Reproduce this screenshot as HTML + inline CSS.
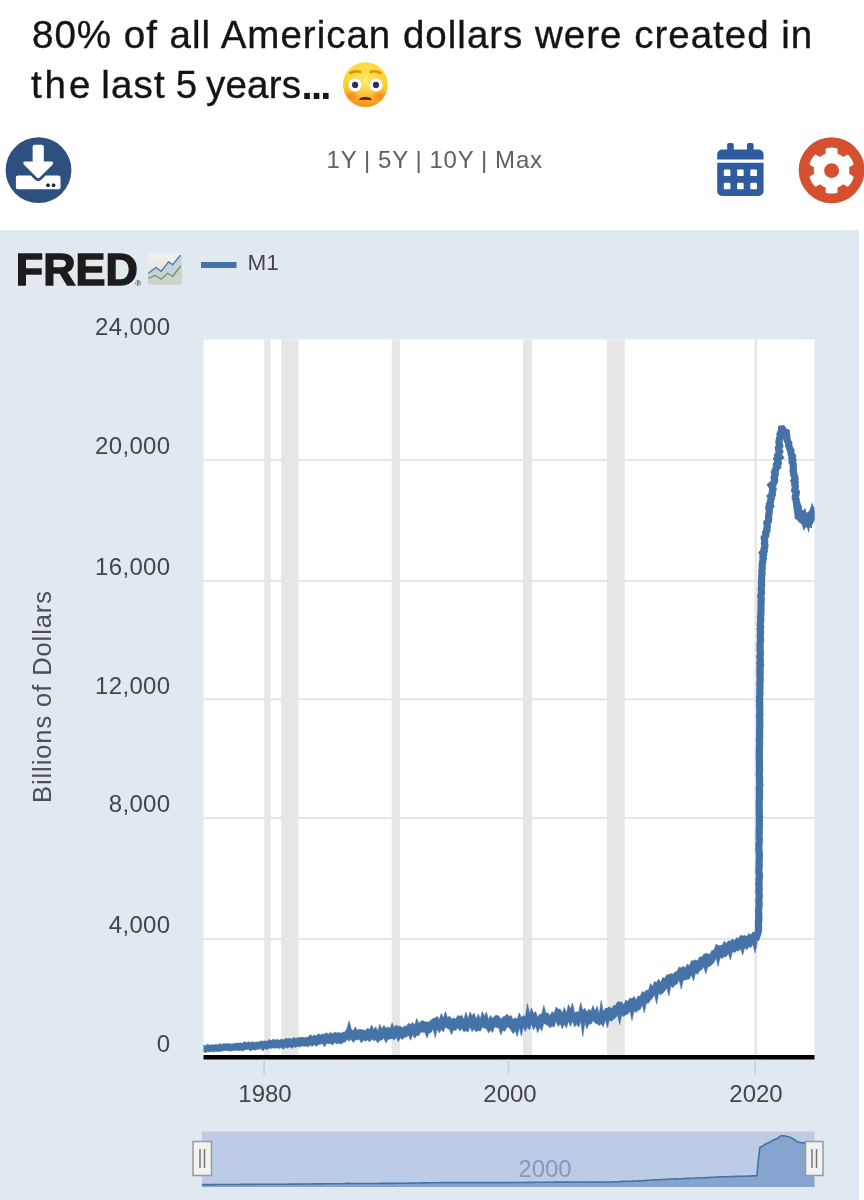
<!DOCTYPE html>
<html lang="en">
<head>
<meta charset="utf-8">
<title>FRED M1</title>
<style>
html,body{margin:0;padding:0;background:#fff;}
body{width:864px;height:1200px;position:relative;overflow:hidden;font-family:"Liberation Sans",sans-serif;}
.abs{position:absolute;}
#title{-webkit-text-stroke:0.350px #141414;left:0;top:0;width:864px;height:120px;font-size:38.500px;line-height:50px;color:#141414;white-space:nowrap;letter-spacing:1px;word-spacing:0px;}
#title span{position:absolute;display:block;line-height:50px;}
#title .l1{left:32px;top:10px;}
#title .l2{top:60px;}
#emo{opacity:0;font-size:10px;}
#ranges{left:326.500px;top:145.500px;font-size:24px;color:#616161;line-height:28px;letter-spacing:0.870px;word-spacing:-0.700px;white-space:nowrap;}
#chartbg{left:0;top:230px;width:859px;height:970px;background:#e1e9f0;}
svg{position:absolute;left:0;top:0;}
svg text{font-family:"Liberation Sans",sans-serif;}
</style>
</head>
<body>
<div id="title" class="abs"><span class="l1">80% of all American dollars were created in</span> <span class="l2" style="left:31px;letter-spacing:2.900px">the</span> <span class="l2" style="left:101.200px;letter-spacing:1.200px">last</span> <span class="l2" style="left:175.7px">5</span> <span class="l2" style="left:206px;letter-spacing:0.200px">years</span><span class="l2" id="dots" style="left:301.500px;font-weight:700;font-size:40px;letter-spacing:-1.700px;-webkit-text-stroke:0">...</span> <span class="l2" id="emo" style="left:350px">😳</span></div>
<div id="ranges" class="abs">1Y | 5Y | 10Y | Max</div>
<div id="chartbg" class="abs"></div>
<svg width="864" height="1200" viewBox="0 0 864 1200">
<defs>
<clipPath id="faceclip"><circle cx="365.4" cy="84.7" r="22.4"/></clipPath>
<clipPath id="plotclip"><rect x="203.500" y="330" width="611" height="740"/></clipPath>
<linearGradient id="face" x1="0" y1="0" x2="0" y2="1"><stop offset="0" stop-color="#ffd83a"/><stop offset="0.500" stop-color="#ffd02e"/><stop offset="1" stop-color="#f5921a"/></linearGradient>
<radialGradient id="face2" cx="50%" cy="42%" r="45%"><stop offset="0" stop-color="#fff07a" stop-opacity="0.900"/><stop offset="1" stop-color="#ffe050" stop-opacity="0"/></radialGradient>
<radialGradient id="blush" cx="50%" cy="50%" r="50%"><stop offset="0" stop-color="#f6702a" stop-opacity="0.750"/><stop offset="1" stop-color="#f5762a" stop-opacity="0"/></radialGradient>
<linearGradient id="icobg" x1="0" y1="0" x2="0" y2="1"><stop offset="0" stop-color="#f1f2f0"/><stop offset="1" stop-color="#dcdfe0"/></linearGradient>
</defs>

<!-- emoji -->
<g id="emoji">
<circle cx="365.4" cy="84.7" r="22.4" fill="url(#face)"/>
<circle cx="365.4" cy="84.7" r="22.4" fill="url(#face2)"/>
<g clip-path="url(#faceclip)"><ellipse cx="351" cy="96" rx="8.500" ry="6.500" fill="url(#blush)"/>
<ellipse cx="379.800" cy="96" rx="8.500" ry="6.500" fill="url(#blush)"/></g>
<circle cx="355.1" cy="84.9" r="7.200" fill="#d9d3b0" opacity="0.700"/>
<circle cx="376" cy="84.9" r="7.200" fill="#d9d3b0" opacity="0.700"/>
<circle cx="355.1" cy="84.9" r="6.500" fill="#fdfdff"/>
<circle cx="376" cy="84.9" r="6.500" fill="#fdfdff"/>
<circle cx="355.1" cy="84.900" r="3.100" fill="#2a2f55"/>
<circle cx="376" cy="84.900" r="3.100" fill="#2a2f55"/>
<path d="M359.100 99.800q0.400-2.900 6.300-2.900t6.300 2.900q-0.300 0.300-0.900 0.200q-5.400-0.500-10.800 0q-0.600 0.100-0.900-0.200z" fill="#5a1a0a"/>
<path d="M350.300 73.100q4.500-3 9.700-1.300" stroke="#dd940c" stroke-width="2.600" fill="none" stroke-linecap="round"/>
<path d="M380.500 73.100q-4.500-3-9.700-1.300" stroke="#dd940c" stroke-width="2.600" fill="none" stroke-linecap="round"/>
</g>

<!-- download icon -->
<g id="dl">
<circle cx="38.5" cy="170.2" r="32.9" fill="#2e5080"/>
<path transform="translate(15.9 144.7) scale(0.0872)" fill="#fff" fill-rule="evenodd" d="M216 0h80c13.3 0 24 10.700 24 24v168h87.700c17.800 0 26.700 21.500 14.100 34.100L269.700 378.300c-7.500 7.500-19.800 7.500-27.300 0L90.100 226.100c-12.600-12.600-3.700-34.100 14.100-34.100H192V24c0-13.300 10.700-24 24-24zm296 376v112c0 13.300-10.700 24-24 24H24c-13.300 0-24-10.700-24-24V376c0-13.300 10.700-24 24-24h146.700l49 49c20.100 20.100 52.500 20.100 72.600 0l49-49H488c13.300 0 24 10.700 24 24zm-124 88c0-11-9-20-20-20s-20 9-20 20 9 20 20 20 20-9 20-20zm64 0c0-11-9-20-20-20s-20 9-20 20 9 20 20 20 20-9 20-20z"/>
<circle cx="48" cy="185.200" r="1.700" fill="#1d2940"/><circle cx="53.600" cy="185.200" r="1.700" fill="#1d2940"/>
</g>

<!-- calendar icon -->
<g id="cal">
<path transform="translate(717.2 143) scale(0.1035)" fill="#2e5c9e" fill-rule="evenodd" d="M0 464c0 26.500 21.500 48 48 48h352c26.500 0 48-21.500 48-48V192H0v272zm320-196c0-6.600 5.400-12 12-12h40c6.600 0 12 5.400 12 12v40c0 6.600-5.400 12-12 12h-40c-6.600 0-12-5.400-12-12v-40zm0 128c0-6.600 5.400-12 12-12h40c6.600 0 12 5.400 12 12v40c0 6.600-5.400 12-12 12h-40c-6.600 0-12-5.400-12-12v-40zM192 268c0-6.600 5.400-12 12-12h40c6.600 0 12 5.400 12 12v40c0 6.600-5.400 12-12 12h-40c-6.600 0-12-5.400-12-12v-40zm0 128c0-6.600 5.400-12 12-12h40c6.600 0 12 5.400 12 12v40c0 6.600-5.400 12-12 12h-40c-6.600 0-12-5.400-12-12v-40zM64 268c0-6.600 5.400-12 12-12h40c6.600 0 12 5.400 12 12v40c0 6.600-5.400 12-12 12H76c-6.600 0-12-5.400-12-12v-40zm0 128c0-6.600 5.400-12 12-12h40c6.600 0 12 5.400 12 12v40c0 6.600-5.400 12-12 12H76c-6.600 0-12-5.400-12-12v-40zM400 64h-48V16c0-8.800-7.200-16-16-16h-32c-8.800 0-16 7.200-16 16v48H160V16c0-8.800-7.200-16-16-16h-32c-8.800 0-16 7.200-16 16v48H48C21.500 64 0 85.500 0 112v48h448v-48c0-26.500-21.500-48-48-48z"/>
</g>

<!-- gear icon -->
<g id="gear">
<circle cx="831.6" cy="170.2" r="32.95" fill="#d5502f"/>
<path transform="translate(807.87 146.87) scale(0.0927)" fill="#fff" fill-rule="evenodd" d="M487.4 315.7l-42.600-24.600c4.300-23.200 4.300-47 0-70.200l42.600-24.600c4.900-2.800 7.100-8.600 5.500-14-11.100-35.600-30-67.800-54.700-94.600-3.800-4.100-10-5.100-14.800-2.300L380.800 110c-17.900-15.400-38.500-27.300-60.800-35.100V25.800c0-5.600-3.900-10.500-9.400-11.700-36.700-8.200-74.300-7.800-109.200 0-5.500 1.200-9.400 6.100-9.400 11.700V75c-22.200 7.900-42.800 19.800-60.800 35.100L88.700 85.500c-4.900-2.800-11-1.900-14.800 2.300-24.700 26.700-43.600 58.900-54.700 94.600-1.700 5.400.6 11.200 5.500 14L67.300 221c-4.300 23.200-4.300 47 0 70.200l-42.600 24.600c-4.900 2.800-7.100 8.600-5.500 14 11.100 35.600 30 67.800 54.700 94.600 3.800 4.100 10 5.100 14.800 2.300l42.600-24.600c17.900 15.400 38.500 27.300 60.800 35.100v49.200c0 5.600 3.900 10.500 9.400 11.700 36.700 8.200 74.300 7.800 109.200 0 5.500-1.200 9.400-6.100 9.400-11.700v-49.200c22.200-7.900 42.800-19.800 60.800-35.100l42.600 24.600c4.900 2.800 11 1.900 14.800-2.300 24.700-26.700 43.600-58.900 54.700-94.600 1.500-5.500-.7-11.300-5.600-14.100zM256 336c-44.100 0-80-35.900-80-80s35.900-80 80-80 80 35.900 80 80-35.900 80-80 80z"/>
</g>

<!-- FRED logo -->
<text x="15.800" y="284.800" font-size="43.500" font-weight="700" fill="#1d1b1c" stroke="#1d1b1c" stroke-width="1.500" textLength="122" lengthAdjust="spacingAndGlyphs">FRED</text>
<text x="135.300" y="285.800" font-size="8" fill="#1d1b1c">®</text>
<g id="fredico">
<rect x="147.700" y="253.500" width="34" height="31.300" rx="3" fill="url(#icobg)"/>
<path d="M148.300 273.300L156 267.500 161.250 271.250 168.500 261.900 172.700 264.600 180.600 255.500 181.700 256v23h-33.400z" fill="#bccad4" opacity="0.750"/>
<path d="M148.300 278.500L155 275.400 161.250 279.200 167.500 273.300 172.700 276.500 181.700 266v15.800a3 3 0 0 1 -3 3h-28a3 3 0 0 1 -3 -3z" fill="#cfd3cf"/>
<path d="M148.300 273.300L156 267.500 161.250 271.250 168.500 261.900 172.700 264.600 180.600 255" fill="none" stroke="#52799c" stroke-width="1.300"/>
<path d="M148.300 278.500L155 275.400 161.250 279.200 167.500 273.300 172.700 276.500 180.600 266" fill="none" stroke="#6f9a4a" stroke-width="1.300"/>
</g>

<!-- legend -->
<rect x="201" y="262" width="35.500" height="6" fill="#4572a7"/>
<text x="247.500" y="269.800" font-size="22.500" fill="#454545">M1</text>

<!-- plot -->
<rect x="203.500" y="339.500" width="611" height="718" fill="#fff"/>
<g fill="#e6e6e6">
<rect x="264.200" y="339.500" width="6.300" height="718"/>
<rect x="281.300" y="339.500" width="17.200" height="718"/>
<rect x="391.700" y="339.500" width="8.200" height="718"/>
<rect x="523" y="339.500" width="9" height="718"/>
<rect x="607" y="339.500" width="17.800" height="718"/>
<rect x="754.500" y="339.500" width="2.500" height="718"/>
</g>
<g fill="#e6e6e6">
<rect x="203.500" y="459" width="611" height="2"/>
<rect x="203.500" y="580" width="611" height="2"/>
<rect x="203.500" y="698.300" width="611" height="2"/>
<rect x="203.500" y="817" width="611" height="2"/>
<rect x="203.500" y="938" width="611" height="2"/>
</g>
<g clip-path="url(#plotclip)">
<path d="M203.5 1045.1L205.6 1045.7L207.6 1044.2L209.7 1045.3L211.7 1044.7L213.8 1044.9L215.8 1044.5L217.9 1044.8L219.9 1043.7L222.0 1044.4L224.0 1043.4L226.1 1044.0L228.1 1043.4L230.2 1044.0L232.2 1043.9L234.3 1043.6L236.3 1043.1L238.4 1043.3L240.4 1042.8L242.5 1043.4L244.5 1041.4L246.6 1042.7L248.6 1041.7L250.7 1042.5L252.7 1041.7L254.8 1042.5L256.8 1041.9L258.9 1042.0L260.9 1040.9L263.0 1041.2L265.0 1040.9L267.1 1041.3L269.1 1039.4L271.2 1040.6L273.2 1039.3L275.3 1040.0L277.3 1039.4L279.4 1040.3L281.4 1039.0L283.5 1039.9L285.5 1038.3L287.6 1038.7L289.6 1038.4L291.7 1039.1L293.7 1037.6L295.8 1038.4L297.8 1037.8L299.9 1037.6L301.9 1037.1L304.0 1037.7L306.0 1037.4L308.1 1037.2L310.1 1034.7L312.2 1036.2L314.2 1035.1L316.3 1036.1L318.3 1033.7L320.4 1035.0L322.4 1034.0L324.5 1034.2L326.5 1032.7L328.6 1034.2L330.6 1032.3L332.7 1034.0L334.7 1032.0L336.8 1033.0L338.8 1032.6L340.9 1033.2L342.9 1032.2L345.0 1031.9L347.0 1028.3L349.1 1020.9L351.1 1028.6L353.2 1031.0L355.2 1026.9L357.3 1030.3L359.3 1029.3L361.4 1029.6L363.4 1029.9L365.5 1030.6L367.5 1028.2L369.6 1029.6L371.6 1025.1L373.7 1029.4L375.7 1026.8L377.8 1031.0L379.8 1024.3L381.9 1029.0L383.9 1025.3L386.0 1028.2L388.0 1026.9L390.1 1028.6L392.1 1022.8L394.2 1027.6L396.2 1025.0L398.3 1026.5L400.3 1025.9L402.4 1028.1L404.4 1026.0L406.5 1026.2L408.5 1023.2L410.6 1024.5L412.6 1022.5L414.7 1024.9L416.7 1018.6L418.8 1023.4L420.8 1021.5L422.9 1020.6L424.9 1021.9L427.0 1022.1L429.0 1021.9L431.1 1020.0L433.1 1018.6L435.2 1018.1L437.2 1016.3L439.3 1019.6L441.3 1013.5L443.4 1018.1L445.4 1011.6L447.5 1017.7L449.5 1016.1L451.6 1019.1L453.6 1018.1L455.7 1018.9L457.7 1015.5L459.8 1016.3L461.8 1015.2L463.9 1019.6L465.9 1012.0L468.0 1018.7L470.0 1011.9L472.1 1015.9L474.1 1013.1L476.2 1019.0L478.2 1014.0L480.3 1019.0L482.3 1011.4L484.4 1016.3L486.4 1012.1L488.5 1019.5L490.5 1015.3L492.6 1018.4L494.6 1015.9L496.7 1015.3L498.7 1016.0L500.8 1018.9L502.8 1017.0L504.9 1016.2L506.9 1014.1L509.0 1016.5L511.0 1015.4L513.1 1019.5L515.1 1017.7L517.2 1019.3L519.2 1012.8L521.3 1017.4L523.3 1015.6L525.4 1016.5L527.4 1003.7L529.5 1013.6L531.5 1008.0L533.6 1013.6L535.6 1011.5L537.7 1017.3L539.7 1014.2L541.8 1014.0L543.8 1005.6L545.9 1013.0L547.9 1013.0L550.0 1015.7L552.0 1011.6L554.1 1013.4L556.1 1006.9L558.2 1009.2L560.2 1009.1L562.3 1013.3L564.3 1007.3L566.4 1013.2L568.4 1004.5L570.5 1008.9L572.5 1003.1L574.6 1013.1L576.6 1011.8L578.7 1012.1L580.7 1002.5L582.8 1010.6L584.8 1008.2L586.9 1012.0L588.9 1009.2L591.0 1011.0L593.0 1005.5L595.1 1011.3L597.1 1006.0L599.2 1014.0L601.2 1000.5L603.3 1011.7L605.3 1008.3L607.4 1008.1L609.4 1006.8L611.5 1008.8L613.5 1005.8L615.6 1005.3L617.6 1001.7L619.7 1002.1L621.7 1002.0L623.8 1005.0L625.8 1000.0L627.9 1001.5L629.9 998.0L632.0 998.9L634.0 996.2L636.1 1000.0L638.1 996.0L640.2 996.3L642.2 991.5L644.3 992.4L646.3 990.1L648.4 990.6L650.4 983.6L652.5 986.2L654.5 981.5L656.6 982.4L658.6 979.1L660.7 982.5L662.7 977.5L664.8 978.3L666.8 974.7L668.9 974.7L670.9 973.5L673.0 974.3L675.0 971.9L677.1 971.2L679.1 966.9L681.2 968.0L683.2 966.3L685.3 968.0L687.3 963.9L689.4 965.7L691.4 960.8L693.5 960.8L695.5 959.8L697.6 961.0L699.6 956.8L701.7 957.3L703.7 954.3L705.8 953.4L707.8 953.8L709.9 954.5L711.9 950.3L714.0 950.2L716.0 944.3L718.1 945.4L720.1 945.5L722.2 945.3L724.2 941.2L726.3 943.5L728.3 940.8L730.4 941.2L732.4 939.1L734.5 940.6L736.5 937.8L738.6 938.3L740.6 935.2L742.7 936.0L744.7 935.3L746.8 936.6L748.8 933.5L750.9 934.9L752.9 931.9L755.0 932.7L757.0 931.9L757.0 944.1L755.0 952.8L752.9 944.2L750.9 947.6L748.8 946.8L746.8 949.8L744.7 947.6L742.7 955.1L740.6 948.7L738.6 951.0L736.5 950.8L734.5 952.4L732.4 951.7L730.4 960.1L728.3 953.5L726.3 956.7L724.2 956.4L722.2 958.5L720.1 957.5L718.1 966.4L716.0 957.8L714.0 962.5L711.9 964.6L709.9 966.6L707.8 966.7L705.8 973.8L703.7 966.8L701.7 969.7L699.6 970.7L697.6 974.3L695.5 972.8L693.5 981.1L691.4 974.7L689.4 979.0L687.3 979.2L685.3 980.0L683.2 980.2L681.2 989.1L679.1 979.8L677.1 984.1L675.0 984.8L673.0 987.7L670.9 986.1L668.9 995.8L666.8 987.7L664.8 991.0L662.7 993.2L660.7 994.7L658.6 993.3L656.6 1004.1L654.5 994.5L652.5 998.1L650.4 1000.3L648.4 1003.3L646.3 1003.2L644.3 1012.9L642.2 1004.5L640.2 1009.4L638.1 1010.3L636.1 1012.6L634.0 1010.8L632.0 1020.5L629.9 1010.9L627.9 1013.9L625.8 1014.7L623.8 1016.5L621.7 1015.1L619.7 1024.6L617.6 1015.1L615.6 1017.6L613.5 1019.3L611.5 1021.3L609.4 1019.9L607.4 1027.7L605.3 1019.8L603.3 1027.0L601.2 1023.7L599.2 1025.6L597.1 1023.8L595.1 1023.0L593.0 1020.6L591.0 1024.1L588.9 1024.1L586.9 1028.7L584.8 1022.6L582.8 1036.5L580.7 1021.1L578.7 1027.1L576.6 1024.1L574.6 1027.1L572.5 1020.9L570.5 1026.4L568.4 1020.9L566.4 1028.1L564.3 1024.1L562.3 1028.8L560.2 1023.4L558.2 1026.6L556.1 1021.1L554.1 1027.1L552.0 1026.0L550.0 1027.8L547.9 1025.4L545.9 1024.6L543.8 1023.3L541.8 1031.1L539.7 1027.2L537.7 1032.7L535.6 1026.0L533.6 1030.0L531.5 1024.1L529.5 1030.0L527.4 1026.8L525.4 1031.5L523.3 1027.1L521.3 1036.0L519.2 1027.6L517.2 1036.4L515.1 1030.4L513.1 1033.7L511.0 1030.3L509.0 1027.5L506.9 1027.0L504.9 1031.2L502.8 1030.2L500.8 1034.9L498.7 1028.0L496.7 1027.4L494.6 1026.9L492.6 1032.4L490.5 1030.1L488.5 1033.2L486.4 1028.6L484.4 1028.3L482.3 1027.1L480.3 1031.2L478.2 1030.4L476.2 1032.0L474.1 1029.0L472.1 1031.7L470.0 1027.1L468.0 1032.1L465.9 1030.7L463.9 1031.8L461.8 1028.5L459.8 1031.1L457.7 1027.7L455.7 1030.4L453.6 1029.7L451.6 1034.6L449.5 1029.6L447.5 1028.6L445.4 1027.1L443.4 1031.9L441.3 1029.3L439.3 1033.0L437.2 1029.1L435.2 1037.8L433.1 1028.8L431.1 1032.5L429.0 1032.9L427.0 1038.0L424.9 1032.2L422.9 1032.3L420.8 1032.0L418.8 1035.5L416.7 1035.4L414.7 1038.2L412.6 1034.5L410.6 1040.3L408.5 1035.0L406.5 1037.1L404.4 1037.2L402.4 1039.4L400.3 1037.8L398.3 1041.7L396.2 1036.9L394.2 1040.0L392.1 1038.5L390.1 1039.1L388.0 1039.3L386.0 1042.9L383.9 1038.1L381.9 1040.0L379.8 1040.3L377.8 1042.9L375.7 1039.8L373.7 1040.8L371.6 1039.0L369.6 1042.0L367.5 1039.7L365.5 1041.3L363.4 1039.9L361.4 1043.0L359.3 1039.3L357.3 1039.9L355.2 1040.1L353.2 1042.5L351.1 1039.1L349.1 1041.2L347.0 1039.4L345.0 1042.1L342.9 1042.4L340.9 1044.2L338.8 1042.9L336.8 1044.0L334.7 1042.3L332.7 1045.0L330.6 1043.5L328.6 1043.7L326.5 1043.2L324.5 1047.1L322.4 1043.4L320.4 1044.3L318.3 1044.6L316.3 1046.4L314.2 1044.5L312.2 1046.5L310.1 1044.8L308.1 1046.9L306.0 1045.9L304.0 1046.3L301.9 1045.7L299.9 1047.2L297.8 1046.1L295.8 1047.4L293.7 1046.8L291.7 1048.4L289.6 1046.8L287.6 1048.2L285.5 1047.1L283.5 1049.3L281.4 1047.6L279.4 1048.6L277.3 1047.7L275.3 1048.3L273.2 1047.8L271.2 1048.5L269.1 1048.1L267.1 1049.7L265.0 1048.4L263.0 1050.9L260.9 1048.6L258.9 1049.2L256.8 1049.3L254.8 1050.2L252.7 1049.4L250.7 1050.9L248.6 1049.5L246.6 1049.6L244.5 1049.9L242.5 1051.1L240.4 1050.2L238.4 1050.7L236.3 1050.1L234.3 1050.7L232.2 1050.6L230.2 1051.3L228.1 1050.7L226.1 1050.6L224.0 1050.5L222.0 1051.2L219.9 1051.2L217.9 1051.8L215.8 1051.2L213.8 1052.1L211.7 1051.4L209.7 1051.9L207.6 1051.8L205.6 1052.4L203.5 1051.9Z" fill="#4572a7" stroke="#4572a7" stroke-width="0.6" stroke-linejoin="miter"/>
<path d="M796.0 500.0L800.0 506.7L802.7 510.7L805.3 508.0L806.7 513.3L809.3 510.7L811.3 505.3L812.0 502.0L813.3 506.0L814.7 508.0L816.0 508.0L816.0 518.7L814.7 518.7L811.3 526.7L810.0 525.3L808.7 533.3L806.8 527.0L805.3 528.0L804.0 531.3L801.5 524.0L799.3 521.3L794.7 516.0L793.0 505.0Z" fill="#4572a7"/>
<path d="M755.5 940.0L756.1 938.2L756.8 936.4L757.4 934.6L758.0 932.8L758.3 931.0L758.6 929.1L758.5 927.2L758.4 925.3L758.6 923.4L758.4 921.5L759.0 919.6L758.7 917.7L758.7 915.8L758.8 913.9L758.6 912.0L758.5 910.1L758.9 908.2L758.9 906.3L759.2 904.4L759.0 902.5L758.8 900.6L759.1 898.7L759.2 896.8L759.2 894.9L759.1 893.0L758.8 891.1L759.3 889.2L758.9 887.3L759.2 885.4L758.7 883.5L759.2 881.6L758.9 879.7L759.3 877.8L759.4 875.9L759.3 874.0L758.9 872.1L758.9 870.2L758.9 868.3L759.2 866.4L759.2 864.5L759.1 862.6L759.2 860.7L759.2 858.8L759.3 856.9L759.5 855.0L759.1 853.1L759.2 851.2L758.8 849.3L758.9 847.4L759.0 845.5L758.9 843.6L759.2 841.7L759.4 839.8L759.1 837.9L759.1 836.0L759.1 834.1L759.2 832.2L759.1 830.3L759.3 828.4L759.3 826.5L759.3 824.6L759.4 822.7L759.2 820.8L759.3 818.9L759.6 817.0L759.2 815.1L759.4 813.2L759.3 811.3L759.2 809.4L759.2 807.5L759.1 805.6L759.3 803.7L759.2 801.8L759.2 799.9L759.6 798.0L759.3 796.1L759.6 794.2L759.4 792.3L759.5 790.4L759.2 788.5L759.4 786.6L759.9 784.7L759.6 782.8L759.6 780.9L759.5 779.0L759.6 777.1L759.2 775.2L759.3 773.3L759.5 771.4L759.6 769.5L759.4 767.6L759.4 765.7L759.4 763.8L759.5 761.9L759.3 760.0L759.2 758.1L759.5 756.2L759.2 754.3L759.3 752.4L759.4 750.5L759.3 748.6L759.6 746.7L759.5 744.8L759.6 742.9L759.4 741.0L759.5 739.1L759.7 737.2L759.7 735.3L759.5 733.4L759.7 731.5L759.7 729.6L759.7 727.7L760.0 725.8L759.6 723.9L759.8 722.0L759.8 720.1L759.7 718.2L759.5 716.3L759.9 714.4L759.8 712.5L759.8 710.6L759.8 708.7L759.8 706.8L759.6 704.9L759.8 703.0L759.4 701.1L759.8 699.2L759.5 697.3L759.8 695.4L760.0 693.5L759.8 691.6L759.8 689.7L760.0 687.8L759.9 685.9L759.8 684.0L759.9 682.1L760.3 680.2L760.1 678.3L760.1 676.4L759.8 674.5L760.2 672.6L759.8 670.7L760.2 668.8L759.9 666.9L760.5 665.0L759.8 663.1L760.4 661.2L760.3 659.3L759.8 657.4L760.1 655.5L760.5 653.6L760.4 651.7L759.9 649.8L760.1 647.9L760.0 646.0L760.1 644.1L760.2 642.2L760.7 640.3L760.4 638.4L760.3 636.5L760.3 634.6L760.5 632.7L760.5 630.8L760.2 628.9L760.7 627.0L760.2 625.1L760.4 623.2L760.6 621.3L760.8 619.4L760.5 617.5L760.7 615.6L760.9 613.7L760.8 611.8L761.0 609.9L761.0 608.0L760.9 606.1L761.0 604.2L761.1 602.3L761.0 600.4L761.3 598.5L760.7 596.6L760.9 594.7L761.5 592.8L761.3 590.9L761.1 589.0L761.4 587.1L761.6 585.2L761.3 583.3L761.6 581.4L761.5 579.5L761.6 577.6L761.7 575.7L762.1 573.8L761.7 571.9L762.0 570.0L762.3 568.1L762.1 566.2L762.1 564.3L762.7 562.4L762.7 560.5L763.3 558.6L762.9 556.8L763.5 554.9L762.5 553.0L764.3 551.1L764.0 549.2L764.7 547.3L765.0 545.4L764.4 543.5L764.7 541.7L764.5 539.8L764.2 537.9L765.6 536.0L766.0 534.1L765.7 532.3L767.0 530.4L766.9 528.5L767.4 526.6L767.1 524.8L766.8 522.9L768.5 521.0L768.7 519.1L768.6 517.3L768.7 515.4L769.0 513.5L769.3 511.6L769.3 509.7L768.8 507.8L770.5 506.0L769.5 504.1L770.4 502.2L770.7 500.3L771.3 498.4L770.5 496.5L772.3 494.7L772.2 492.8L772.5 490.9L773.1 489.0L772.2 487.1L771.2 485.3L773.5 483.4L774.4 481.5L774.7 479.7L774.1 477.8L774.7 475.9L775.3 474.1L774.5 472.2L775.5 470.3L775.9 468.5L777.5 466.6L776.6 464.7L778.3 462.9L777.8 461.0L777.1 459.2L779.5 457.3L777.9 455.4L778.9 453.5L779.7 451.6L778.6 449.7L778.4 447.8L779.8 445.9L779.4 444.0L778.9 442.1L779.1 440.2L779.6 438.3L780.5 436.4L780.0 434.5L780.7 432.7L781.5 430.8L781.6 428.9L782.3 428.8L783.3 430.4L783.2 431.4L786.3 432.4L786.4 434.2L786.8 436.0L786.8 437.8L787.0 439.6L787.8 441.5L788.8 443.3L788.6 445.2L789.3 447.0L789.8 448.9L790.9 450.7L790.8 452.6L791.3 454.4L792.5 456.3L791.9 458.2L792.8 460.0L792.1 461.9L793.1 463.8L793.2 465.7L793.4 467.6L793.3 469.5L793.1 471.3L793.8 473.2L793.8 475.1L794.9 477.0L795.0 478.9L794.0 480.8L795.2 482.7L794.7 484.6L795.4 486.5L795.1 488.4L794.7 490.3L796.3 492.2L796.2 494.0L795.4 495.9L795.2 497.8L796.2 499.7L796.1 501.6L796.8 503.5L797.5 505.4L798.3 507.3L797.6 509.1L798.9 511.0L799.2 512.9L798.6 514.7L798.3 516.6L800.6 518.2L801.5 519.8L803.7 521.2L804.8 522.2L806.1 523.1L808.4 523.6L808.4 523.4L809.9 521.7L810.4 520.0L812.2 518.2L812.2 516.4L810.8 514.6L814.1 512.9L813.8 511.3" fill="none" stroke="#4572a7" stroke-width="7.2" stroke-linejoin="miter" stroke-miterlimit="5" stroke-linecap="butt"/>
</g>
<rect x="203.500" y="1055" width="611" height="4.500" fill="#000"/>
<g fill="#c3cfe6">
<rect x="263.300" y="1059.500" width="1.600" height="15"/>
<rect x="507.800" y="1059.500" width="1.600" height="15"/>
<rect x="754.300" y="1059.500" width="1.600" height="15"/>
</g>

<!-- y labels -->
<g font-size="24" fill="#42464a" text-anchor="end" letter-spacing="0.350">
<text x="170.500" y="335.300">24,000</text>
<text x="170.500" y="454.300">20,000</text>
<text x="170.500" y="575.300">16,000</text>
<text x="170.500" y="693.600">12,000</text>
<text x="170.500" y="812.300">8,000</text>
<text x="170.500" y="933.300">4,000</text>
<text x="170.500" y="1051.600">0</text>
</g>
<text transform="translate(51.200 697) rotate(-90)" font-size="25.500" fill="#4c5054" text-anchor="middle" textLength="212" lengthAdjust="spacing">Billions of Dollars</text>
<g font-size="24" fill="#42464a" text-anchor="middle">
<text x="265" y="1101.600">1980</text>
<text x="510" y="1101.600">2000</text>
<text x="756" y="1101.600">2020</text>
</g>

<!-- navigator -->
<rect x="202" y="1132" width="612.500" height="55" fill="#bdcce6"/>
<rect x="202" y="1131.500" width="612.500" height="1.500" fill="#c8ccd4"/>
<path d="M202.0 1184.6L203.5 1184.6L205.0 1184.6L206.5 1184.6L208.0 1184.6L209.5 1184.6L211.0 1184.6L212.5 1184.6L214.0 1184.6L215.5 1184.6L217.0 1184.6L218.5 1184.5L220.0 1184.5L221.5 1184.5L223.1 1184.5L224.6 1184.5L226.1 1184.5L227.6 1184.5L229.1 1184.5L230.6 1184.5L232.1 1184.5L233.6 1184.5L235.1 1184.5L236.6 1184.5L238.1 1184.5L239.6 1184.4L241.1 1184.4L242.6 1184.4L244.1 1184.4L245.6 1184.4L247.1 1184.4L248.6 1184.4L250.1 1184.4L251.6 1184.4L253.1 1184.4L254.6 1184.4L256.1 1184.4L257.6 1184.3L259.1 1184.3L260.6 1184.3L262.1 1184.3L263.7 1184.3L265.2 1184.3L266.7 1184.3L268.2 1184.3L269.7 1184.3L271.2 1184.3L272.7 1184.3L274.2 1184.2L275.7 1184.2L277.2 1184.2L278.7 1184.2L280.2 1184.2L281.7 1184.2L283.2 1184.2L284.7 1184.2L286.2 1184.2L287.7 1184.2L289.2 1184.1L290.7 1184.1L292.2 1184.1L293.7 1184.1L295.2 1184.1L296.7 1184.1L298.2 1184.1L299.7 1184.1L301.2 1184.1L302.7 1184.0L304.3 1184.0L305.8 1184.0L307.3 1184.0L308.8 1184.0L310.3 1184.0L311.8 1184.0L313.3 1183.9L314.8 1183.9L316.3 1183.9L317.8 1183.9L319.3 1183.9L320.8 1183.9L322.3 1183.9L323.8 1183.9L325.3 1183.8L326.8 1183.8L328.3 1183.8L329.8 1183.8L331.3 1183.8L332.8 1183.8L334.3 1183.8L335.8 1183.7L337.3 1183.7L338.8 1183.7L340.3 1183.7L341.8 1183.7L343.3 1183.6L344.8 1183.6L346.4 1183.5L347.9 1183.4L349.4 1183.4L350.9 1183.5L352.4 1183.5L353.9 1183.5L355.4 1183.6L356.9 1183.6L358.4 1183.5L359.9 1183.5L361.4 1183.5L362.9 1183.5L364.4 1183.5L365.9 1183.5L367.4 1183.5L368.9 1183.5L370.4 1183.5L371.9 1183.5L373.4 1183.5L374.9 1183.5L376.4 1183.5L377.9 1183.5L379.4 1183.4L380.9 1183.4L382.4 1183.4L383.9 1183.4L385.4 1183.4L387.0 1183.4L388.5 1183.4L390.0 1183.4L391.5 1183.4L393.0 1183.4L394.5 1183.4L396.0 1183.3L397.5 1183.3L399.0 1183.3L400.5 1183.3L402.0 1183.3L403.5 1183.2L405.0 1183.2L406.5 1183.2L408.0 1183.2L409.5 1183.1L411.0 1183.1L412.5 1183.1L414.0 1183.1L415.5 1183.0L417.0 1183.0L418.5 1183.0L420.0 1183.0L421.5 1182.9L423.0 1182.9L424.5 1182.9L426.0 1182.9L427.6 1182.8L429.1 1182.8L430.6 1182.8L432.1 1182.8L433.6 1182.7L435.1 1182.7L436.6 1182.7L438.1 1182.7L439.6 1182.6L441.1 1182.6L442.6 1182.6L444.1 1182.6L445.6 1182.6L447.1 1182.6L448.6 1182.6L450.1 1182.6L451.6 1182.6L453.1 1182.6L454.6 1182.6L456.1 1182.6L457.6 1182.6L459.1 1182.6L460.6 1182.6L462.1 1182.6L463.6 1182.6L465.1 1182.6L466.6 1182.6L468.2 1182.6L469.7 1182.6L471.2 1182.6L472.7 1182.6L474.2 1182.6L475.7 1182.6L477.2 1182.6L478.7 1182.6L480.2 1182.6L481.7 1182.6L483.2 1182.6L484.7 1182.6L486.2 1182.6L487.7 1182.6L489.2 1182.6L490.7 1182.6L492.2 1182.6L493.7 1182.6L495.2 1182.6L496.7 1182.6L498.2 1182.6L499.7 1182.6L501.2 1182.6L502.7 1182.6L504.2 1182.6L505.7 1182.6L507.2 1182.6L508.8 1182.6L510.3 1182.5L511.8 1182.5L513.3 1182.5L514.8 1182.5L516.3 1182.5L517.8 1182.5L519.3 1182.5L520.8 1182.5L522.3 1182.5L523.8 1182.5L525.3 1182.5L526.8 1182.4L528.3 1182.4L529.8 1182.4L531.3 1182.4L532.8 1182.4L534.3 1182.4L535.8 1182.3L537.3 1182.3L538.8 1182.3L540.3 1182.3L541.8 1182.3L543.3 1182.3L544.8 1182.2L546.3 1182.2L547.8 1182.2L549.4 1182.2L550.9 1182.2L552.4 1182.2L553.9 1182.1L555.4 1182.1L556.9 1182.1L558.4 1182.1L559.9 1182.1L561.4 1182.1L562.9 1182.1L564.4 1182.1L565.9 1182.1L567.4 1182.1L568.9 1182.1L570.4 1182.0L571.9 1182.0L573.4 1182.0L574.9 1182.0L576.4 1182.0L577.9 1182.0L579.4 1182.0L580.9 1182.0L582.4 1182.0L583.9 1182.0L585.4 1182.0L586.9 1182.1L588.4 1182.1L590.0 1182.1L591.5 1182.1L593.0 1182.1L594.5 1182.1L596.0 1182.1L597.5 1182.1L599.0 1182.1L600.5 1182.1L602.0 1182.1L603.5 1182.1L605.0 1182.1L606.5 1182.0L608.0 1182.0L609.5 1182.0L611.0 1182.0L612.5 1181.9L614.0 1181.8L615.5 1181.8L617.0 1181.7L618.5 1181.7L620.0 1181.6L621.5 1181.5L623.0 1181.4L624.5 1181.4L626.0 1181.3L627.5 1181.3L629.0 1181.2L630.5 1181.2L632.1 1181.1L633.6 1181.1L635.1 1181.0L636.6 1181.0L638.1 1180.9L639.6 1180.9L641.1 1180.8L642.6 1180.7L644.1 1180.6L645.6 1180.5L647.1 1180.4L648.6 1180.3L650.1 1180.2L651.6 1180.1L653.1 1180.0L654.6 1179.9L656.1 1179.9L657.6 1179.8L659.1 1179.7L660.6 1179.6L662.1 1179.5L663.6 1179.5L665.1 1179.4L666.6 1179.3L668.1 1179.2L669.6 1179.1L671.1 1179.1L672.7 1179.0L674.2 1179.0L675.7 1178.9L677.2 1178.9L678.7 1178.8L680.2 1178.7L681.7 1178.7L683.2 1178.6L684.7 1178.6L686.2 1178.5L687.7 1178.4L689.2 1178.4L690.7 1178.3L692.2 1178.2L693.7 1178.2L695.2 1178.1L696.7 1178.0L698.2 1178.0L699.7 1177.9L701.2 1177.8L702.7 1177.8L704.2 1177.7L705.7 1177.6L707.2 1177.6L708.7 1177.5L710.2 1177.4L711.7 1177.3L713.3 1177.2L714.8 1177.2L716.3 1177.1L717.8 1177.0L719.3 1176.9L720.8 1176.9L722.3 1176.8L723.8 1176.8L725.3 1176.7L726.8 1176.7L728.3 1176.7L729.8 1176.6L731.3 1176.6L732.8 1176.5L734.3 1176.5L735.8 1176.4L737.3 1176.4L738.8 1176.3L740.3 1176.3L741.8 1176.2L743.3 1176.2L744.8 1176.2L746.3 1176.1L747.8 1176.1L749.3 1176.0L750.8 1176.0L752.3 1175.9L753.9 1175.9L755.4 1175.9L756.9 1175.8L758.4 1159.6L759.9 1147.4L761.4 1146.8L762.9 1145.8L764.4 1144.8L765.9 1144.0L767.4 1143.3L768.9 1142.5L770.4 1141.6L771.9 1140.7L773.4 1140.0L774.9 1139.4L776.4 1138.8L777.9 1138.2L779.4 1136.9L780.9 1135.7L782.4 1135.8L783.9 1135.9L785.4 1136.0L786.9 1136.4L788.4 1136.8L789.9 1137.3L791.4 1137.9L792.9 1138.6L794.5 1139.7L796.0 1141.0L797.5 1141.9L799.0 1142.4L800.5 1142.7L802.0 1142.8L803.5 1142.9L805.0 1142.9L806.5 1142.9L808.0 1142.9L809.5 1142.9L811.0 1142.7L812.5 1142.5L814.0 1142.3L814.5 1187.0L202.0 1187.0Z" fill="#87a4cf"/>
<path d="M202.0 1184.6L203.5 1184.6L205.0 1184.6L206.5 1184.6L208.0 1184.6L209.5 1184.6L211.0 1184.6L212.5 1184.6L214.0 1184.6L215.5 1184.6L217.0 1184.6L218.5 1184.5L220.0 1184.5L221.5 1184.5L223.1 1184.5L224.6 1184.5L226.1 1184.5L227.6 1184.5L229.1 1184.5L230.6 1184.5L232.1 1184.5L233.6 1184.5L235.1 1184.5L236.6 1184.5L238.1 1184.5L239.6 1184.4L241.1 1184.4L242.6 1184.4L244.1 1184.4L245.6 1184.4L247.1 1184.4L248.6 1184.4L250.1 1184.4L251.6 1184.4L253.1 1184.4L254.6 1184.4L256.1 1184.4L257.6 1184.3L259.1 1184.3L260.6 1184.3L262.1 1184.3L263.7 1184.3L265.2 1184.3L266.7 1184.3L268.2 1184.3L269.7 1184.3L271.2 1184.3L272.7 1184.3L274.2 1184.2L275.7 1184.2L277.2 1184.2L278.7 1184.2L280.2 1184.2L281.7 1184.2L283.2 1184.2L284.7 1184.2L286.2 1184.2L287.7 1184.2L289.2 1184.1L290.7 1184.1L292.2 1184.1L293.7 1184.1L295.2 1184.1L296.7 1184.1L298.2 1184.1L299.7 1184.1L301.2 1184.1L302.7 1184.0L304.3 1184.0L305.8 1184.0L307.3 1184.0L308.8 1184.0L310.3 1184.0L311.8 1184.0L313.3 1183.9L314.8 1183.9L316.3 1183.9L317.8 1183.9L319.3 1183.9L320.8 1183.9L322.3 1183.9L323.8 1183.9L325.3 1183.8L326.8 1183.8L328.3 1183.8L329.8 1183.8L331.3 1183.8L332.8 1183.8L334.3 1183.8L335.8 1183.7L337.3 1183.7L338.8 1183.7L340.3 1183.7L341.8 1183.7L343.3 1183.6L344.8 1183.6L346.4 1183.5L347.9 1183.4L349.4 1183.4L350.9 1183.5L352.4 1183.5L353.9 1183.5L355.4 1183.6L356.9 1183.6L358.4 1183.5L359.9 1183.5L361.4 1183.5L362.9 1183.5L364.4 1183.5L365.9 1183.5L367.4 1183.5L368.9 1183.5L370.4 1183.5L371.9 1183.5L373.4 1183.5L374.9 1183.5L376.4 1183.5L377.9 1183.5L379.4 1183.4L380.9 1183.4L382.4 1183.4L383.9 1183.4L385.4 1183.4L387.0 1183.4L388.5 1183.4L390.0 1183.4L391.5 1183.4L393.0 1183.4L394.5 1183.4L396.0 1183.3L397.5 1183.3L399.0 1183.3L400.5 1183.3L402.0 1183.3L403.5 1183.2L405.0 1183.2L406.5 1183.2L408.0 1183.2L409.5 1183.1L411.0 1183.1L412.5 1183.1L414.0 1183.1L415.5 1183.0L417.0 1183.0L418.5 1183.0L420.0 1183.0L421.5 1182.9L423.0 1182.9L424.5 1182.9L426.0 1182.9L427.6 1182.8L429.1 1182.8L430.6 1182.8L432.1 1182.8L433.6 1182.7L435.1 1182.7L436.6 1182.7L438.1 1182.7L439.6 1182.6L441.1 1182.6L442.6 1182.6L444.1 1182.6L445.6 1182.6L447.1 1182.6L448.6 1182.6L450.1 1182.6L451.6 1182.6L453.1 1182.6L454.6 1182.6L456.1 1182.6L457.6 1182.6L459.1 1182.6L460.6 1182.6L462.1 1182.6L463.6 1182.6L465.1 1182.6L466.6 1182.6L468.2 1182.6L469.7 1182.6L471.2 1182.6L472.7 1182.6L474.2 1182.6L475.7 1182.6L477.2 1182.6L478.7 1182.6L480.2 1182.6L481.7 1182.6L483.2 1182.6L484.7 1182.6L486.2 1182.6L487.7 1182.6L489.2 1182.6L490.7 1182.6L492.2 1182.6L493.7 1182.6L495.2 1182.6L496.7 1182.6L498.2 1182.6L499.7 1182.6L501.2 1182.6L502.7 1182.6L504.2 1182.6L505.7 1182.6L507.2 1182.6L508.8 1182.6L510.3 1182.5L511.8 1182.5L513.3 1182.5L514.8 1182.5L516.3 1182.5L517.8 1182.5L519.3 1182.5L520.8 1182.5L522.3 1182.5L523.8 1182.5L525.3 1182.5L526.8 1182.4L528.3 1182.4L529.8 1182.4L531.3 1182.4L532.8 1182.4L534.3 1182.4L535.8 1182.3L537.3 1182.3L538.8 1182.3L540.3 1182.3L541.8 1182.3L543.3 1182.3L544.8 1182.2L546.3 1182.2L547.8 1182.2L549.4 1182.2L550.9 1182.2L552.4 1182.2L553.9 1182.1L555.4 1182.1L556.9 1182.1L558.4 1182.1L559.9 1182.1L561.4 1182.1L562.9 1182.1L564.4 1182.1L565.9 1182.1L567.4 1182.1L568.9 1182.1L570.4 1182.0L571.9 1182.0L573.4 1182.0L574.9 1182.0L576.4 1182.0L577.9 1182.0L579.4 1182.0L580.9 1182.0L582.4 1182.0L583.9 1182.0L585.4 1182.0L586.9 1182.1L588.4 1182.1L590.0 1182.1L591.5 1182.1L593.0 1182.1L594.5 1182.1L596.0 1182.1L597.5 1182.1L599.0 1182.1L600.5 1182.1L602.0 1182.1L603.5 1182.1L605.0 1182.1L606.5 1182.0L608.0 1182.0L609.5 1182.0L611.0 1182.0L612.5 1181.9L614.0 1181.8L615.5 1181.8L617.0 1181.7L618.5 1181.7L620.0 1181.6L621.5 1181.5L623.0 1181.4L624.5 1181.4L626.0 1181.3L627.5 1181.3L629.0 1181.2L630.5 1181.2L632.1 1181.1L633.6 1181.1L635.1 1181.0L636.6 1181.0L638.1 1180.9L639.6 1180.9L641.1 1180.8L642.6 1180.7L644.1 1180.6L645.6 1180.5L647.1 1180.4L648.6 1180.3L650.1 1180.2L651.6 1180.1L653.1 1180.0L654.6 1179.9L656.1 1179.9L657.6 1179.8L659.1 1179.7L660.6 1179.6L662.1 1179.5L663.6 1179.5L665.1 1179.4L666.6 1179.3L668.1 1179.2L669.6 1179.1L671.1 1179.1L672.7 1179.0L674.2 1179.0L675.7 1178.9L677.2 1178.9L678.7 1178.8L680.2 1178.7L681.7 1178.7L683.2 1178.6L684.7 1178.6L686.2 1178.5L687.7 1178.4L689.2 1178.4L690.7 1178.3L692.2 1178.2L693.7 1178.2L695.2 1178.1L696.7 1178.0L698.2 1178.0L699.7 1177.9L701.2 1177.8L702.7 1177.8L704.2 1177.7L705.7 1177.6L707.2 1177.6L708.7 1177.5L710.2 1177.4L711.7 1177.3L713.3 1177.2L714.8 1177.2L716.3 1177.1L717.8 1177.0L719.3 1176.9L720.8 1176.9L722.3 1176.8L723.8 1176.8L725.3 1176.7L726.8 1176.7L728.3 1176.7L729.8 1176.6L731.3 1176.6L732.8 1176.5L734.3 1176.5L735.8 1176.4L737.3 1176.4L738.8 1176.3L740.3 1176.3L741.8 1176.2L743.3 1176.2L744.8 1176.2L746.3 1176.1L747.8 1176.1L749.3 1176.0L750.8 1176.0L752.3 1175.9L753.9 1175.9L755.4 1175.9L756.9 1175.8L758.4 1159.6L759.9 1147.4L761.4 1146.8L762.9 1145.8L764.4 1144.8L765.9 1144.0L767.4 1143.3L768.9 1142.5L770.4 1141.6L771.9 1140.7L773.4 1140.0L774.9 1139.4L776.4 1138.8L777.9 1138.2L779.4 1136.9L780.9 1135.7L782.4 1135.8L783.9 1135.9L785.4 1136.0L786.9 1136.4L788.4 1136.8L789.9 1137.3L791.4 1137.9L792.9 1138.6L794.5 1139.7L796.0 1141.0L797.5 1141.9L799.0 1142.4L800.5 1142.7L802.0 1142.8L803.5 1142.9L805.0 1142.9L806.5 1142.9L808.0 1142.9L809.5 1142.9L811.0 1142.7L812.5 1142.5L814.0 1142.3" fill="none" stroke="#4572a7" stroke-width="1.600"/>
<text x="545" y="1177" font-size="24" fill="#8e94b5" text-anchor="middle">2000</text>
<g id="h1">
<rect x="193" y="1141.500" width="18.500" height="34" fill="#f2f2f2" stroke="#999" stroke-width="1.500"/>
<line x1="200" x2="200" y1="1149" y2="1168" stroke="#777" stroke-width="1.500"/>
<line x1="204.500" x2="204.500" y1="1149" y2="1168" stroke="#777" stroke-width="1.500"/>
</g>
<g id="h2">
<rect x="805.500" y="1141.500" width="17.500" height="34" fill="#f2f2f2" stroke="#999" stroke-width="1.500"/>
<line x1="812" x2="812" y1="1149" y2="1168" stroke="#777" stroke-width="1.500"/>
<line x1="816.500" x2="816.500" y1="1149" y2="1168" stroke="#777" stroke-width="1.500"/>
</g>
</svg>
</body>
</html>
